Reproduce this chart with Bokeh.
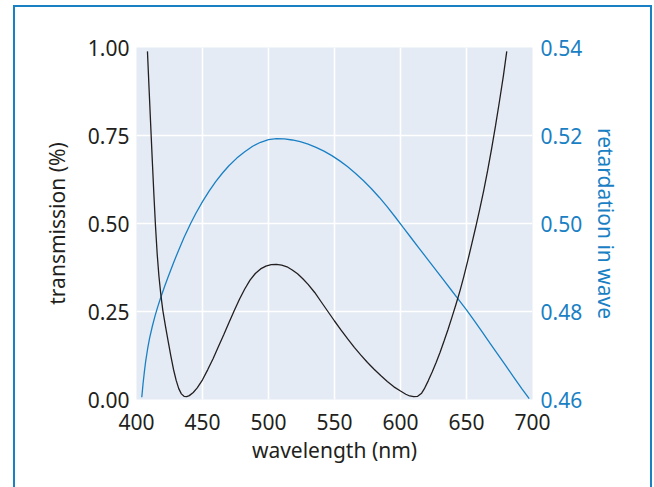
from bokeh.plotting import figure
from bokeh.models import Range1d, LinearAxis, FixedTicker, CustomJSTickFormatter, InlineStyleSheet
from bokeh.embed import file_html
from bokeh.resources import INLINE

# ---- data ----
trans_wl = [408.3, 409.5, 410.7, 412.0, 413.2, 414.4, 415.7, 417.0, 418.5, 420.0,
            422.0, 424.0, 426.0, 428.0, 430.0, 432.0, 434.0, 436.0, 438.0, 440.0,
            443.0, 446.0, 450.0, 454.0, 458.0, 462.0, 466.0, 470.0, 474.0, 478.0,
            482.0, 486.0, 490.0, 494.0, 498.0, 502.0, 506.0, 510.0, 514.0, 518.0,
            522.0, 526.0, 530.0, 535.0, 540.0, 545.0, 550.0, 555.0, 560.0, 565.0,
            570.0, 575.0, 580.0, 585.0, 590.0, 595.0, 600.0, 604.0, 607.0, 610.0,
            613.0, 616.0, 618.0, 621.0, 624.0, 627.0, 630.0, 633.0, 636.0, 639.0,
            642.0, 645.0, 648.0, 651.0, 654.0, 657.0, 660.0, 663.0, 666.0, 669.0,
            672.0, 675.0, 678.0, 680.5]
trans_val = [0.989, 0.885, 0.784, 0.676, 0.580, 0.492, 0.412, 0.350, 0.296, 0.252,
             0.207, 0.165, 0.124, 0.086, 0.055, 0.031, 0.016, 0.009, 0.008, 0.011,
             0.020, 0.033, 0.056, 0.085, 0.116, 0.150, 0.183, 0.218, 0.252, 0.285,
             0.314, 0.339, 0.358, 0.371, 0.379, 0.383, 0.384, 0.382, 0.377, 0.368,
             0.357, 0.343, 0.327, 0.304, 0.277, 0.250, 0.223, 0.197, 0.172, 0.148,
             0.126, 0.105, 0.086, 0.068, 0.051, 0.036, 0.024, 0.015, 0.010, 0.008,
             0.009, 0.018, 0.030, 0.053, 0.078, 0.105, 0.134, 0.166, 0.199, 0.234,
             0.270, 0.308, 0.350, 0.395, 0.442, 0.490, 0.540, 0.593, 0.650, 0.712,
             0.778, 0.848, 0.921, 0.989]

ret_wl = [404.0, 405.0, 406.0, 407.0, 408.5, 410.0, 412.0, 414.0, 416.0, 418.0,
          421.0, 424.0, 428.0, 432.0, 436.0, 441.0, 445.0, 450.0, 455.0, 460.0,
          465.0, 470.0, 476.0, 482.0, 488.0, 494.0, 500.0, 506.0, 512.0, 518.0,
          524.0, 530.0, 536.0, 542.0, 548.0, 554.0, 560.0, 566.0, 572.0, 578.0,
          584.0, 590.0, 596.0, 602.0, 608.0, 614.0, 620.0, 626.0, 632.0, 638.0,
          644.0, 650.0, 656.0, 662.0, 668.0, 674.0, 680.0, 686.0, 692.0, 697.5]
ret_val = [0.4605, 0.4637, 0.4664, 0.4688, 0.47165, 0.47405, 0.47665, 0.47895, 0.48099, 0.48285,
           0.48546, 0.48792, 0.49104, 0.49400, 0.49680, 0.50000, 0.50232, 0.50497, 0.50737, 0.50952,
           0.51142, 0.51312, 0.51486, 0.51630, 0.51756, 0.51846, 0.51906, 0.51930, 0.51922, 0.51898,
           0.51859, 0.51803, 0.51732, 0.51645, 0.51542, 0.51423, 0.51288, 0.51138, 0.50972, 0.50790,
           0.50592, 0.50378, 0.50148, 0.49910, 0.49676, 0.49442, 0.49208, 0.48974, 0.48740, 0.48506,
           0.48272, 0.48038, 0.47788, 0.47530, 0.47272, 0.47014, 0.46756, 0.46498, 0.46240, 0.46020]

x_ticks = [400, 450, 500, 550, 600, 650, 700]
y_ticks = [0.0, 0.25, 0.5, 0.75, 1.0]
y2_ticks = [0.46, 0.48, 0.50, 0.52, 0.54]

BLUE = "#1a80c4"
DARK = "#231f20"
FONT = "Noto Sans"
FS = "21px"

p = figure(width=654, height=487, output_backend="svg", toolbar_location=None,
           x_range=Range1d(400, 700), y_range=Range1d(0, 1),
           min_border_left=136, min_border_right=122, min_border_top=47, min_border_bottom=88,
           background_fill_color="#e4ebf5", border_fill_color="white")
p.outline_line_color = None
p.extra_y_ranges = {"ret": Range1d(0.46, 0.54)}

# outer blue frame (page decoration)
p.stylesheets = [InlineStyleSheet(css="""
:host { position: relative; }
:host::after {
  content: ""; position: absolute; left: 13px; top: 5px; width: 639px; height: 482px;
  box-sizing: border-box; border: 2.5px solid #1a80c4; border-bottom: none;
  pointer-events: none;
}
""")]

# grid
p.xgrid.ticker = FixedTicker(ticks=x_ticks)
p.ygrid.ticker = FixedTicker(ticks=y_ticks)
for g in (p.xgrid, p.ygrid):
    g.grid_line_color = "white"
    g.grid_line_width = 1.6

# axes
xa = p.xaxis[0]
xa.ticker = FixedTicker(ticks=x_ticks)
xa.axis_label = "wavelength (nm)"
ya = p.yaxis[0]
ya.ticker = FixedTicker(ticks=y_ticks)
ya.axis_label = "transmission (%)"
ya.formatter = CustomJSTickFormatter(code="return tick.toFixed(2);")

ra = LinearAxis(y_range_name="ret", ticker=FixedTicker(ticks=y2_ticks),
                axis_label="retardation in wave",
                formatter=CustomJSTickFormatter(code="return tick.toFixed(2);"))
p.add_layout(ra, "right")

for ax in (xa, ya, ra):
    ax.axis_line_color = None
    ax.major_tick_line_color = None
    ax.minor_tick_line_color = None
    ax.major_tick_out = 0
    ax.major_tick_in = 0
    ax.minor_tick_out = 0
    ax.minor_tick_in = 0
    ax.major_label_text_font = FONT
    ax.major_label_text_font_size = FS
    ax.axis_label_text_font = FONT
    ax.axis_label_text_font_size = FS
    ax.axis_label_text_font_style = "normal"

for ax in (xa, ya):
    ax.major_label_text_color = DARK
    ax.axis_label_text_color = DARK
ra.major_label_text_color = BLUE
ra.axis_label_text_color = BLUE

xa.major_label_standoff = 14
xa.axis_label_standoff = 3
ya.major_label_standoff = 7
ya.axis_label_standoff = 14
ra.major_label_standoff = 8
ra.axis_label_standoff = 7

# curves
p.line(ret_wl, ret_val, y_range_name="ret", line_color=BLUE, line_width=1.3)
p.line(trans_wl, trans_val, line_color=DARK, line_width=1.3)

open("out.html", "w").write(file_html(p, INLINE))
